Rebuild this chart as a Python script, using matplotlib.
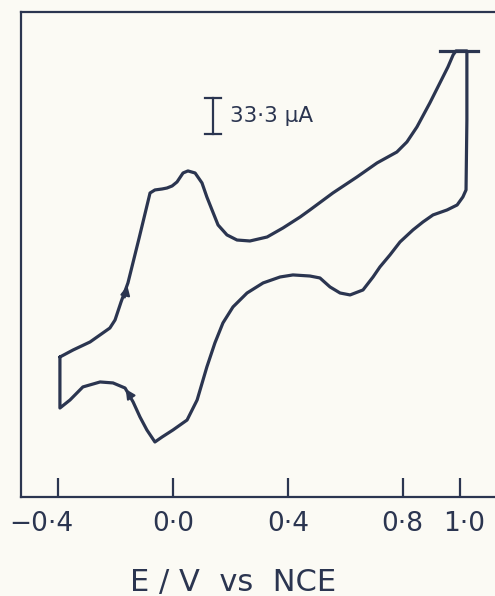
import matplotlib
matplotlib.use("Agg")
import matplotlib.pyplot as plt
import matplotlib.transforms as mtransforms

# cyclic voltammogram (E in V vs NCE, I in uA, arbitrary zero)
fwd_E = [-0.394, -0.348, -0.289, -0.220, -0.202, -0.181, -0.157, -0.118, -0.080,
         -0.063, -0.038, -0.021, -0.003, 0.014, 0.035, 0.052, 0.077, 0.101,
         0.118, 0.136, 0.157, 0.188, 0.223, 0.268, 0.328, 0.383, 0.443, 0.477,
         0.557, 0.641, 0.711, 0.780, 0.815, 0.850, 0.895, 0.930, 0.958, 0.976,
         0.986]
fwd_I = [129.5, 136.0, 143.4, 156.3, 163.7, 180.4, 198.0, 239.6, 281.2,
         284.0, 284.9, 285.8, 287.7, 291.4, 299.7, 301.6, 299.7, 290.5,
         277.5, 265.5, 251.6, 242.4, 237.7, 236.8, 240.5, 248.8, 259.0, 265.5,
         281.2, 296.0, 309.0, 319.1, 328.4, 342.3, 364.5, 383.0, 397.8, 408.9,
         412.6]

rev_E = [1.024, 1.024, 1.021, 1.010, 0.990, 0.955, 0.906, 0.871, 0.836, 0.791,
         0.756, 0.721, 0.697, 0.662, 0.617, 0.582, 0.547, 0.512, 0.477, 0.418,
         0.373, 0.314, 0.258, 0.209, 0.174, 0.146, 0.118, 0.084, 0.049, 0.000,
         -0.038, -0.063, -0.091, -0.115, -0.139, -0.167, -0.209, -0.254,
         -0.314, -0.359, -0.394, -0.394]
rev_I = [412.6, 348.7, 284.0, 277.5, 270.1, 265.5, 260.9, 254.4, 247.0, 235.9,
         223.9, 212.8, 203.5, 191.5, 186.9, 188.7, 194.3, 202.6, 204.4, 205.4,
         203.5, 198.0, 188.7, 175.8, 161.0, 142.5, 120.3, 89.7, 71.2, 62.0,
         55.5, 50.9, 62.0, 74.0, 87.9, 100.8, 105.5, 106.4,
         101.8, 89.7, 82.3, 129.5]

# flat top at the switching potential
cap_E = [0.930, 1.063]
cap_I = [412.6, 412.6]

# scan direction arrows: (from, to)
arrow_from = [(-0.170, 182.0), (-0.148, 93.0)]
arrow_to = [(-0.157, 198.0), (-0.170, 102.0)]

# current scale bar
bar_E = 0.139
bar_I = [336.0, 369.3]
bar_label = "33·3 µA"

xticks = [-0.4, 0.0, 0.4, 0.8, 1.0]
xticklabels = ["\u22120·4", "0·0", "0·4", "0·8", "1·0"]

ink = "#2b3550"
paper = "#fbfaf4"

fig = plt.figure(figsize=(4.95, 5.96), dpi=100, facecolor=paper)
ax = fig.add_axes([21 / 495, 99 / 596, 1 - 21 / 495, 485 / 596], facecolor=paper)

ax.plot(fwd_E + rev_E, fwd_I + rev_I, color=ink, lw=2.3,
        solid_joinstyle="round", solid_capstyle="round")
ax.plot(cap_E, cap_I, color=ink, lw=2.3)

for a, b in zip(arrow_from, arrow_to):
    ax.annotate("", xy=b, xytext=a,
                arrowprops=dict(arrowstyle="-|>", color=ink, lw=1.5, mutation_scale=14))

# scale bar
ax.plot([bar_E, bar_E], bar_I, color=ink, lw=1.6)
for yv in bar_I:
    ax.plot([bar_E - 0.028, bar_E + 0.028], [yv, yv], color=ink, lw=1.6)
ax.text(bar_E + 0.06, sum(bar_I) / 2, bar_label, color=ink, fontsize=15.5,
        va="center", ha="left")

ax.set_xlim((21 - 173) / 287, (495 - 173) / 287)
ax.set_ylim(0, 448.6)
ax.set_xticks(xticks)
ax.set_xticklabels(xticklabels, fontsize=19, color=ink)
ax.set_yticks([])
ax.tick_params(axis="x", direction="in", length=14, width=1.6, color=ink, pad=10)
for s in ["left", "top", "bottom"]:
    ax.spines[s].set_color(ink)
    ax.spines[s].set_linewidth(1.6)
ax.spines["right"].set_visible(False)

# nudge the end labels like the hand-lettered originals
labs = ax.get_xticklabels()
labs[0].set_transform(labs[0].get_transform() +
                      mtransforms.ScaledTranslation(-0.17, 0, fig.dpi_scale_trans))
labs[-1].set_transform(labs[-1].get_transform() +
                       mtransforms.ScaledTranslation(0.04, 0, fig.dpi_scale_trans))

fig.text(233 / 495, 1 - 582 / 596, "E / V  vs  NCE", fontsize=22, color=ink,
         ha="center", va="center")

fig.savefig("out.png", dpi=100, facecolor=paper)
